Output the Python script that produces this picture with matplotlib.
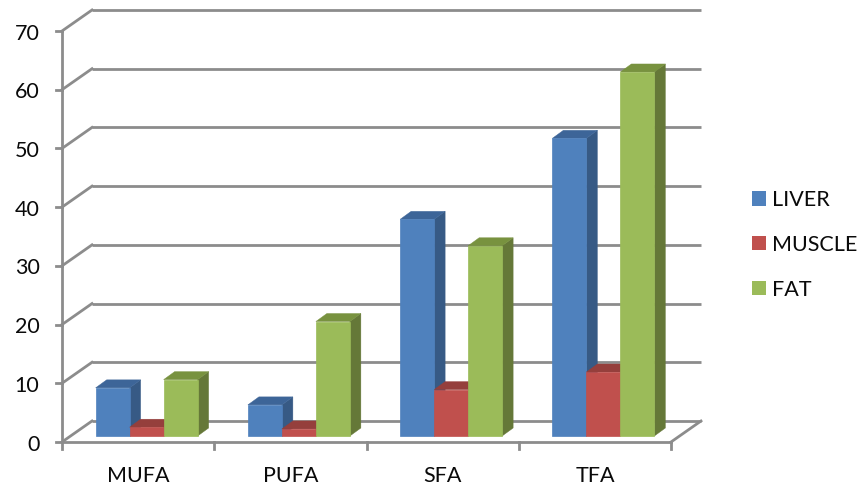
import matplotlib
matplotlib.use("Agg")
import matplotlib.pyplot as plt
from matplotlib.patches import Polygon, Patch
from matplotlib.transforms import Affine2D

plt.rcParams['font.family'] = ['Lato', 'DejaVu Sans']

categories = ["MUFA", "PUFA", "SFA", "TFA"]
liver = [8.2, 5.3, 36.9, 50.7]
muscle = [1.5, 1.2, 7.9, 10.9]
fat = [9.6, 19.5, 32.4, 62.0]
y_ticks = [0, 10, 20, 30, 40, 50, 60, 70]

series = [
    ("LIVER", liver, "#4F81BD", "#375A85", "#3D6598"),
    ("MUSCLE", muscle, "#C0504D", "#8A3A38", "#953F3C"),
    ("FAT", fat, "#9BBB59", "#657838", "#78923F"),
]

W, H = 858, 486
fig = plt.figure(figsize=(W / 100, H / 100), dpi=100)
# Front plane of the 3-D box: x 62..671 px, y 442..31 px from the top
ax = fig.add_axes([62 / W, 1 - 442 / H, (671 - 62) / W, (442 - 31) / H])
ax.set_xlim(0, 4)
ax.set_ylim(0, 70)
ax.set_axis_off()

AXIS = "#8C8C8C"
TEXT = "#0A0A0A"
WALL_DX, WALL_DY = 30, 21          # depth of the back wall, px
BAR_DX, BAR_DY = 11, 8             # depth of each bar, px
BAR_SHIFT_X, BAR_SHIFT_Y = 8.5, 6  # bars stand inside the floor, px
BAR_W = 34 / ((671 - 62) / 4)


def shifted(dx, dy):
    return ax.transData + Affine2D().translate(dx, dy)


back = shifted(WALL_DX, WALL_DY)
lw = 2.0
# Back-wall gridlines with their diagonal run along the side wall
for v in y_ticks:
    ax.plot([0, 4], [v, v], transform=back, color=AXIS, lw=lw, clip_on=False,
            solid_capstyle="butt", zorder=1)
    x0, y0 = ax.transData.transform((0, v))
    ax.add_line(plt.Line2D([x0, x0 + WALL_DX], [y0, y0 + WALL_DY], transform=None,
                           color=AXIS, lw=lw, zorder=1, clip_on=False))
    ax.add_line(plt.Line2D([x0 - 6, x0], [y0, y0], transform=None,
                           color=AXIS, lw=lw, zorder=1, clip_on=False))
    ax.text(0, v, str(v), transform=shifted(-22.5, -2.5), ha="right", va="center",
            fontsize=15.5, color=TEXT, clip_on=False)

# Left axis, floor front edge and the floor's right diagonal
ax.plot([0, 0], [0, 70], color=AXIS, lw=lw, clip_on=False, zorder=1)
ax.plot([0, 4], [0, 0], color=AXIS, lw=lw, clip_on=False, zorder=1)
x1, y1 = ax.transData.transform((4, 0))
ax.add_line(plt.Line2D([x1, x1 + WALL_DX], [y1, y1 + WALL_DY], transform=None,
                       color=AXIS, lw=lw, zorder=1, clip_on=False))
for i in range(5):
    xt, yt = ax.transData.transform((i, 0))
    ax.add_line(plt.Line2D([xt, xt], [yt, yt - 7], transform=None,
                           color=AXIS, lw=lw, zorder=1, clip_on=False))

for i, name in enumerate(categories):
    ax.text(i + 0.5, 0, name, transform=shifted(0, -33.5), ha="center", va="center",
            fontsize=15.5, color=TEXT, clip_on=False)

# Bars: side and top faces first, then the front face
z = 2
for i in range(len(categories)):
    for k, (label, values, front, side, top) in enumerate(series):
        left = i + 0.5 + (k - 1.5) * BAR_W
        right = left + BAR_W
        v = values[i]
        corners = [ax.transData.transform(q) for q in
                   [(left, 0), (right, 0), (right, v), (left, v)]]
        pts = [(p[0] + BAR_SHIFT_X, p[1] + BAR_SHIFT_Y) for p in corners]
        side_face = [pts[1], (pts[1][0] + BAR_DX, pts[1][1] + BAR_DY),
                     (pts[2][0] + BAR_DX, pts[2][1] + BAR_DY), pts[2]]
        top_face = [pts[3], pts[2], (pts[2][0] + BAR_DX, pts[2][1] + BAR_DY),
                    (pts[3][0] + BAR_DX, pts[3][1] + BAR_DY)]
        ax.add_patch(Polygon(side_face, closed=True, transform=None, facecolor=side,
                             edgecolor=side, lw=0.3, zorder=z, clip_on=False))
        ax.add_patch(Polygon(top_face, closed=True, transform=None, facecolor=top,
                             edgecolor=top, lw=0.3, zorder=z, clip_on=False))
        ax.add_patch(Polygon(pts, closed=True, transform=None, facecolor=front,
                             edgecolor=front, lw=0.5, zorder=z + 1, clip_on=False))
        z += 2

handles = [Patch(facecolor=s[2], edgecolor="none", label=s[0]) for s in series]
fig.legend(handles=handles, loc="upper left", bbox_to_anchor=(752 / W, 1 - 190 / H),
           frameon=False, fontsize=15.5, handlelength=0.65, handleheight=0.65,
           handletextpad=0.28, labelspacing=1.15, borderpad=0, borderaxespad=0,
           labelcolor=TEXT)

fig.savefig("out.png", dpi=100, facecolor="white")
